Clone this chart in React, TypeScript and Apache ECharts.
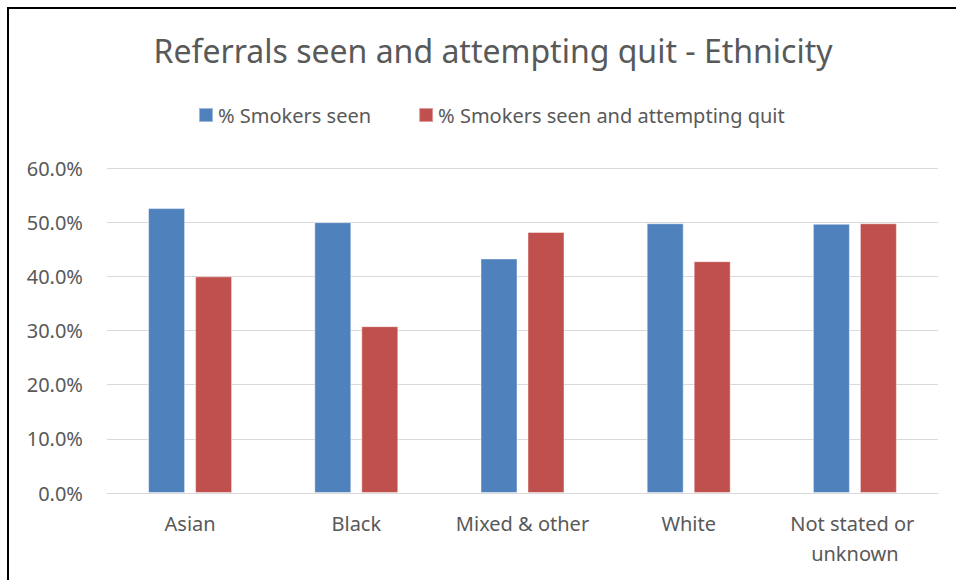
import React, { useEffect, useRef } from "react";
import * as echarts from "echarts";

const categories = ["Asian", "Black", "Mixed & other", "White", "Not stated or unknown"];
const smokersSeen = [0.526, 0.5, 0.433, 0.498, 0.497];
const seenAndQuit = [0.4, 0.308, 0.482, 0.428, 0.498];
const seriesNames = ["% Smokers seen", "% Smokers seen and attempting quit"];

const FONT = "'Noto Sans', 'Open Sans', sans-serif";
const TEXT = "#595959";

export default function App() {
  const ref = useRef<HTMLDivElement>(null);

  useEffect(() => {
    if (!ref.current) return;
    const chart = echarts.init(ref.current, undefined, { renderer: "svg" });
    chart.setOption({
      animation: false,
      backgroundColor: "#ffffff",
      textStyle: { fontFamily: FONT },
      title: {
        text: "Referrals seen and attempting quit - Ethnicity",
        left: 488,
        top: 29,
        textAlign: "center",
        textStyle: { fontFamily: FONT, fontSize: 32, fontWeight: "normal", color: TEXT },
      },
      legend: {
        top: 100,
        left: 193,
        itemWidth: 14,
        itemHeight: 14,
        itemGap: 47,
        icon: "rect",
        textStyle: { fontFamily: FONT, fontSize: 20, color: TEXT },
        data: seriesNames,
      },
      graphic: [
        {
          type: "rect",
          shape: { x: 8, y: 8, width: 1200, height: 1200 },
          style: { fill: "none", stroke: "#000000", lineWidth: 2 },
          silent: true,
        },
      ],
      grid: { left: 107, right: 18, top: 168, bottom: 87, containLabel: false },
      xAxis: {
        type: "category",
        data: categories,
        axisLine: { lineStyle: { color: "#d9d9d9", width: 1 } },
        axisTick: { show: false },
        axisLabel: {
          fontFamily: FONT,
          fontSize: 20,
          color: TEXT,
          margin: 15,
          lineHeight: 30,
          width: 160,
          overflow: "break",
          interval: 0,
        },
      },
      yAxis: {
        type: "value",
        min: 0,
        max: 0.6,
        interval: 0.1,
        axisLine: { show: false },
        axisTick: { show: false },
        splitLine: { lineStyle: { color: "#d9d9d9", width: 1 } },
        axisLabel: {
          fontFamily: FONT,
          fontSize: 20,
          color: TEXT,
          margin: 24,
          formatter: (v: number) => (v * 100).toFixed(1) + "%",
        },
      },
      series: [
        {
          name: seriesNames[0],
          type: "bar",
          data: smokersSeen,
          barWidth: 37,
          barGap: "27%",
          itemStyle: { color: "#4f81bd", borderColor: "rgba(255,255,255,0.45)", borderWidth: 1 },
        },
        {
          name: seriesNames[1],
          type: "bar",
          data: seenAndQuit,
          barWidth: 37,
          barGap: "27%",
          itemStyle: { color: "#c0504d", borderColor: "rgba(255,255,255,0.45)", borderWidth: 1 },
        },
      ],
    });
    return () => chart.dispose();
  }, []);

  return (
    <div
      ref={ref}
      style={{ position: "absolute", left: 0, top: 0, width: 956, height: 580 }}
    />
  );
}
